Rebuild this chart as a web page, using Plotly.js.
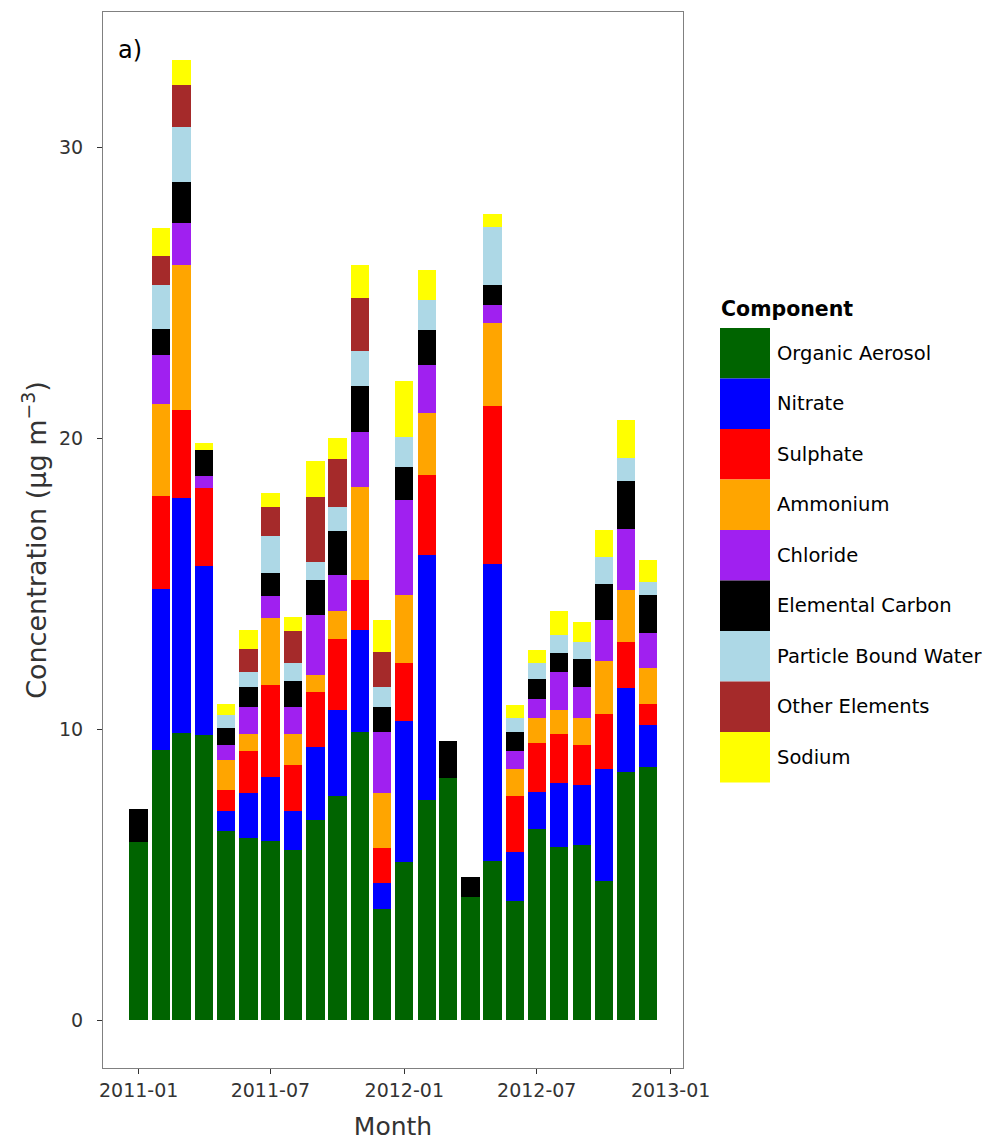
<!DOCTYPE html>
<html>
<head>
<meta charset="utf-8">
<script src="https://cdn.plot.ly/plotly-3.0.1.min.js"></script>
<style>body{margin:0;background:#fff}</style>
</head>
<body>
<div id="chart" style="width:999px;height:1144px"></div>
<script>
// Monthly mean PM composition, stacked by component
const months = ['2011-01-01','2011-02-01','2011-03-01','2011-04-01','2011-05-01','2011-06-01',
  '2011-07-01','2011-08-01','2011-09-01','2011-10-01','2011-11-01','2011-12-01',
  '2012-01-01','2012-02-01','2012-03-01','2012-04-01','2012-05-01','2012-06-01',
  '2012-07-01','2012-08-01','2012-09-01','2012-10-01','2012-11-01','2012-12-01'];

const organicAerosol = [6.11,9.29,9.88,9.81,6.49,6.27,6.17,5.85,6.88,7.71,9.90,3.83,5.43,7.56,8.33,4.24,5.46,4.08,6.56,5.94,6.03,4.79,8.51,8.70];
const nitrate        = [0,5.53,8.05,5.81,0.71,1.53,2.19,1.35,2.49,2.96,3.50,0.89,4.86,8.42,0,0,10.22,1.68,1.29,2.21,2.06,3.83,2.89,1.44];
const sulphate       = [0,3.18,3.03,2.67,0.69,1.43,3.14,1.56,1.89,2.41,1.74,1.18,1.98,2.77,0,0,5.42,1.95,1.66,1.67,1.36,1.90,1.60,0.73];
const ammonium       = [0,3.19,5.00,0,1.04,0.61,2.31,1.06,0.60,0.99,3.17,1.90,2.34,2.10,0,0,2.86,0.91,0.87,0.83,0.93,1.81,1.78,1.22];
const chloride       = [0,1.66,1.43,0.40,0.52,0.92,0.77,0.94,2.07,1.22,1.89,2.10,3.25,1.68,0,0,0.63,0.62,0.67,1.30,1.06,1.42,2.10,1.22];
const elementalCarbon= [1.15,0.91,1.43,0.92,0.60,0.68,0.77,0.89,1.21,1.51,1.58,0.86,1.14,1.20,1.27,0.67,0.68,0.66,0.66,0.68,0.97,1.24,1.64,1.30];
const boundWater     = [0,1.51,1.89,0,0.44,0.51,1.30,0.62,0.62,0.84,1.23,0.68,1.03,1.03,0,0,2.00,0.47,0.56,0.61,0.59,0.93,0.80,0.44];
const otherElements  = [0,0.98,1.43,0,0,0.82,0.98,1.09,2.21,1.65,1.80,1.21,0,0,0,0,0,0,0,0,0,0,0,0];
const sodium         = [0,0.99,0.86,0.23,0.36,0.63,0.48,0.51,1.23,0.72,1.15,1.10,1.92,1.03,0,0,0.42,0.47,0.45,0.83,0.69,0.93,1.32,0.75];

const componentNames = ['Organic Aerosol','Nitrate','Sulphate','Ammonium','Chloride',
  'Elemental Carbon','Particle Bound Water','Other Elements','Sodium'];
const componentColors = ['#006400','#0000FF','#FF0000','#FFA500','#A020F0',
  '#000000','#ADD8E6','#A52A2A','#FFFF00'];
const componentValues = [organicAerosol,nitrate,sulphate,ammonium,chloride,
  elementalCarbon,boundWater,otherElements,sodium];

const yTicks = [0,10,20,30];
const xTicks = ['2011-01-01','2011-07-01','2012-01-01','2012-07-01','2013-01-01'];
const xTickText = ['2011-01','2011-07','2012-01','2012-07','2013-01'];

const DAY = 86400000;
const barWidth = 0.9 * 28 * DAY;

const traces = componentNames.map((name, i) => ({
  type: 'bar',
  name: name,
  x: months,
  y: componentValues[i],
  width: months.map(() => barWidth),
  marker: {color: componentColors[i], line: {width: 0}},
  showlegend: false,
  hoverinfo: 'x+y+name'
}));

// plot frame in pixels
const W = 999, H = 1144;
const L = 103, R = 683, T = 12, B = 1068;
const px = v => (v - L) / (R - L);
const py = v => (B - v) / (B - T);

const FONT = 'DejaVu Sans, Verdana, sans-serif';

// hand-built legend with large keys
const shapes = [];
const annotations = [];
const keyTop = 328, keyH = 50.5, keyL = 720, keyR = 770;
componentNames.forEach((name, i) => {
  const y0 = keyTop + i * keyH, y1 = y0 + keyH;
  shapes.push({type: 'rect', xref: 'paper', yref: 'paper',
    x0: px(keyL), x1: px(keyR), y0: py(y1), y1: py(y0),
    fillcolor: componentColors[i], line: {width: 0}});
  annotations.push({xref: 'paper', yref: 'paper', x: px(775), y: py((y0 + y1) / 2),
    xanchor: 'left', yanchor: 'middle', showarrow: false, text: name,
    font: {family: FONT, size: 19.5, color: '#000'}});
});
annotations.push({xref: 'paper', yref: 'paper', x: px(719), y: py(309),
  xanchor: 'left', yanchor: 'middle', showarrow: false, text: '<b>Component</b>',
  font: {family: FONT, size: 20.5, color: '#000'}});
annotations.push({xref: 'paper', yref: 'paper', x: px(116), y: py(50),
  xanchor: 'left', yanchor: 'middle', showarrow: false, text: 'a)',
  font: {family: FONT, size: 24, color: '#000'}});

const layout = {
  width: W, height: H,
  margin: {l: L, r: W - R, t: T, b: H - B, pad: 0},
  paper_bgcolor: '#fff', plot_bgcolor: '#fff',
  barmode: 'stack',
  showlegend: false,
  font: {family: FONT, color: '#333'},
  xaxis: {
    type: 'date',
    range: ['2010-11-13', '2013-01-18'],
    tickmode: 'array', tickvals: xTicks, ticktext: xTickText,
    ticks: 'outside', ticklen: 5, tickcolor: '#333', tickwidth: 1,
    tickfont: {family: FONT, size: 19, color: '#333'},
    showline: true, linecolor: '#808080', linewidth: 1, mirror: true,
    showgrid: false, zeroline: false,
    title: {text: 'Month', font: {family: FONT, size: 25, color: '#333'}, standoff: 17}
  },
  yaxis: {
    range: [-1.65, 34.65],
    tickmode: 'array', tickvals: yTicks,
    ticks: 'outside', ticklen: 5, tickcolor: '#333', tickwidth: 1,
    tickfont: {family: FONT, size: 19, color: '#333'},
    ticklabelstandoff: 10,
    showline: true, linecolor: '#808080', linewidth: 1, mirror: true,
    showgrid: false, zeroline: false,
    title: {text: 'Concentration (µg m<sup>−3</sup>)', font: {family: FONT, size: 27, color: '#333'}, standoff: 4}
  },
  shapes: shapes,
  annotations: annotations
};

Plotly.newPlot('chart', traces, layout, {displayModeBar: false, staticPlot: true});
</script>
</body>
</html>
